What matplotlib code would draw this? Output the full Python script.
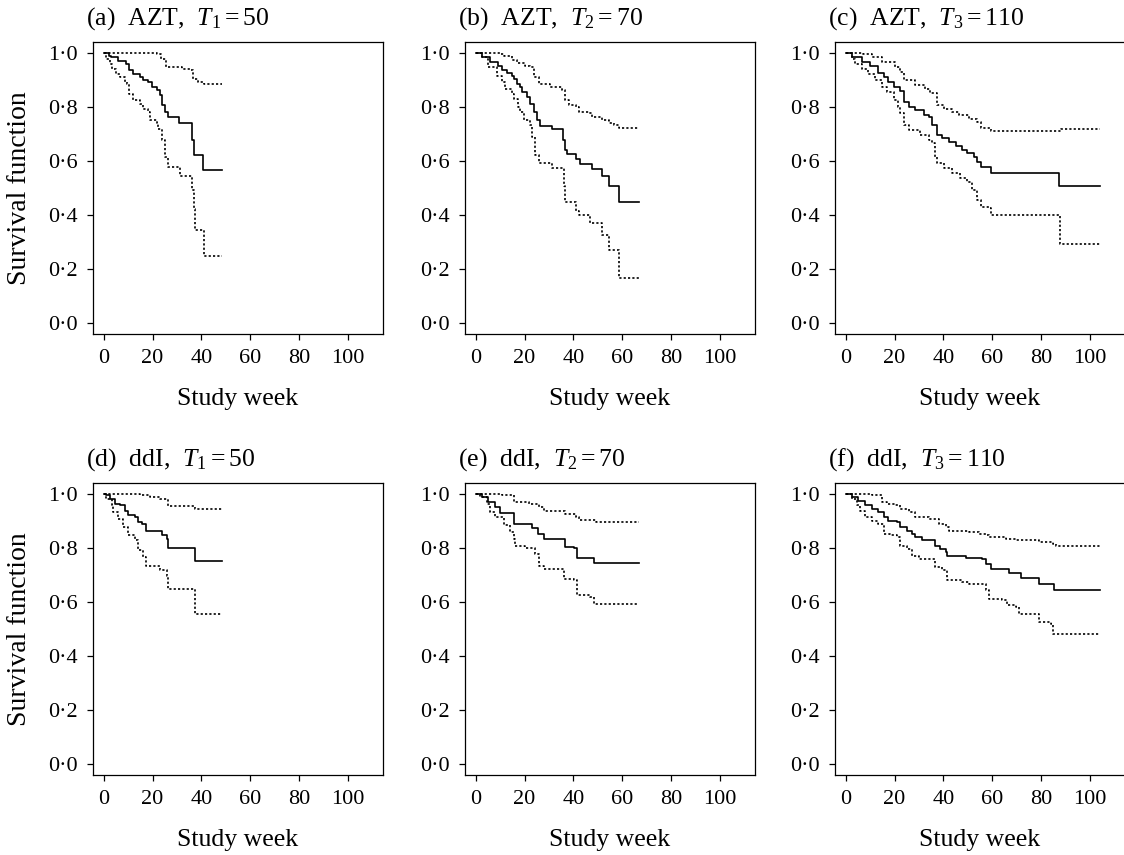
import matplotlib
matplotlib.use("Agg")
import matplotlib.pyplot as plt

plt.rcParams['font.family'] = ['Liberation Serif', 'DejaVu Serif']
plt.rcParams['mathtext.fontset'] = 'custom'
plt.rcParams['mathtext.rm'] = 'Liberation Serif'
plt.rcParams['mathtext.it'] = 'Liberation Serif:italic'

# Kaplan-Meier estimate (est) with lower/upper pointwise bands
# (a) AZT, T1 = 50
a_est_t = [0, 2, 3, 6, 9, 10.3, 12, 15, 16, 18, 19.6, 21.7, 23, 23.7, 25, 26.5, 31, 36, 37, 40.6]
a_est_s = [1.0, 0.989, 0.983, 0.968, 0.956, 0.934, 0.921, 0.91, 0.90, 0.89, 0.873, 0.86, 0.842, 0.805, 0.781, 0.76, 0.738, 0.676, 0.62, 0.566]
a_up_t = [0, 22, 23.5, 25.5, 32, 35.4, 36.7, 38.8, 40.9]
a_up_s = [1.0, 0.995, 0.977, 0.946, 0.94, 0.934, 0.903, 0.891, 0.882]
a_lo_t = [0, 1.1, 2.5, 3.2, 5.2, 6.6, 8.6, 9.7, 10.3, 12.1, 14.8, 16.2, 18.2, 18.9, 21.7, 22.3, 23.7, 25.1, 26.5, 31.3, 36.1, 36.8, 37.4, 40.9]
a_lo_s = [1.0, 0.977, 0.958, 0.94, 0.921, 0.909, 0.891, 0.885, 0.848, 0.824, 0.811, 0.793, 0.781, 0.75, 0.74, 0.719, 0.676, 0.615, 0.578, 0.542, 0.493, 0.42, 0.346, 0.248]
a_end = 48.5

# (b) AZT, T2 = 70
b_est_t = [0, 2.4, 5.9, 9.3, 10.7, 12.7, 14.8, 15.5, 16.8, 18.2, 18.9, 20.9, 22.3, 23.7, 25.1, 26.5, 31.3, 35.6, 36.5, 37.4, 40.9, 42.9, 47.7, 51.8, 54.6, 58.7]
b_est_s = [1.0, 0.983, 0.964, 0.949, 0.934, 0.925, 0.915, 0.903, 0.885, 0.873, 0.854, 0.836, 0.81, 0.781, 0.75, 0.73, 0.719, 0.676, 0.64, 0.625, 0.605, 0.588, 0.569, 0.542, 0.505, 0.446]
b_up_t = [0, 10, 11.4, 14.8, 17, 20.3, 22.3, 23.7, 25.8, 30.6, 35.4, 36.7, 38.1, 40.9, 42.2, 46.3, 47.7, 51.8, 54.6, 56.6, 58.7]
b_up_s = [1.0, 0.995, 0.989, 0.973, 0.96, 0.952, 0.946, 0.909, 0.885, 0.873, 0.863, 0.824, 0.805, 0.799, 0.781, 0.775, 0.762, 0.75, 0.738, 0.732, 0.723]
b_lo_t = [0, 2.4, 5.2, 8.6, 10.7, 12.1, 14.8, 15.5, 17.5, 18.2, 19.6, 22.3, 23, 24.4, 25.8, 31.3, 36, 36.7, 40.9, 42.2, 47, 51.8, 54.6, 58.7]
b_lo_s = [1.0, 0.983, 0.946, 0.915, 0.891, 0.866, 0.848, 0.83, 0.799, 0.781, 0.75, 0.732, 0.689, 0.621, 0.591, 0.572, 0.505, 0.446, 0.413, 0.40, 0.37, 0.327, 0.27, 0.166]
b_end = 67

# (c) AZT, T3 = 110
c_est_t = [0, 2.4, 6.5, 10, 13.4, 15.5, 17.5, 19.6, 22.3, 23.7, 25.8, 28.5, 31.9, 34, 35.4, 37.4, 39.5, 42.2, 45, 47.7, 49.8, 52.5, 53.9, 55.3, 59.4, 87.5]
c_est_s = [1.0, 0.983, 0.964, 0.949, 0.924, 0.909, 0.891, 0.873, 0.858, 0.817, 0.799, 0.789, 0.768, 0.76, 0.732, 0.695, 0.683, 0.67, 0.654, 0.64, 0.627, 0.613, 0.597, 0.576, 0.556, 0.507]
c_up_t = [0, 7.2, 10.7, 14.8, 20.3, 22.3, 23.7, 28.5, 32.6, 34.7, 37.4, 40.2, 43.6, 46.3, 50.5, 53.9, 55.3, 59.4, 88.2]
c_up_s = [1.0, 0.995, 0.983, 0.964, 0.946, 0.928, 0.897, 0.879, 0.866, 0.85, 0.805, 0.793, 0.781, 0.768, 0.756, 0.744, 0.723, 0.711, 0.716]
c_lo_t = [0, 2.4, 3.8, 6.5, 9.3, 12.1, 14.8, 16.8, 19.6, 21.6, 22.3, 23.7, 25.8, 30.6, 34, 35.4, 36.7, 37.4, 40.2, 43.6, 47, 49.8, 51.8, 53.9, 55.3, 58.7, 59.4, 87.8]
c_lo_s = [1.0, 0.977, 0.958, 0.94, 0.921, 0.897, 0.873, 0.854, 0.824, 0.799, 0.775, 0.732, 0.713, 0.695, 0.676, 0.664, 0.615, 0.591, 0.572, 0.554, 0.536, 0.523, 0.493, 0.456, 0.431, 0.425, 0.401, 0.294]
c_end = 104

# (d) ddI, T1 = 50
d_est_t = [0, 1.1, 2.5, 4.5, 6.6, 8.6, 10, 12.8, 14.1, 15.5, 17.5, 23.7, 25.8, 26.5, 37.2]
d_est_s = [1.0, 0.993, 0.98, 0.962, 0.956, 0.937, 0.919, 0.913, 0.894, 0.888, 0.86, 0.845, 0.833, 0.80, 0.75]
d_up_t = [0, 14.8, 18.9, 23, 26.5, 37.4]
d_up_s = [1.0, 0.993, 0.986, 0.98, 0.953, 0.943]
d_lo_t = [0, 1.1, 3.2, 3.9, 5.9, 7.9, 10, 12.8, 14.1, 16.2, 17.5, 23, 25.8, 26.5, 37.2]
d_lo_s = [1.0, 0.98, 0.956, 0.931, 0.907, 0.876, 0.845, 0.827, 0.79, 0.765, 0.734, 0.716, 0.697, 0.648, 0.556]
d_end = 48.5

# (e) ddI, T2 = 70
e_est_t = [0, 2.4, 5.2, 7.9, 10, 15.5, 23, 25.5, 27.8, 36.5, 40.2, 41.5, 48.4]
e_est_s = [1.0, 0.986, 0.968, 0.95, 0.928, 0.888, 0.872, 0.851, 0.833, 0.802, 0.799, 0.763, 0.743]
e_up_t = [0, 6.5, 10.7, 15.5, 22, 25.8, 27.8, 36.7, 40.9, 42.2, 49.1]
e_up_s = [1.0, 0.998, 0.993, 0.968, 0.96, 0.95, 0.937, 0.925, 0.913, 0.903, 0.894]
e_lo_t = [0, 1.8, 4.5, 5.9, 7.9, 11.4, 14.1, 15.5, 16.2, 20.3, 24.4, 25.8, 27.8, 36, 40.2, 41.5, 47, 48.4]
e_lo_s = [1.0, 0.986, 0.962, 0.931, 0.913, 0.882, 0.857, 0.833, 0.808, 0.80, 0.777, 0.734, 0.722, 0.685, 0.679, 0.624, 0.617, 0.59]
e_end = 67

# (f) ddI, T3 = 110
f_est_t = [0, 2.4, 5.2, 7.9, 10.7, 13.4, 15.5, 17.5, 20.9, 22.3, 25.1, 27.1, 28.5, 31.3, 36.7, 38.8, 40.9, 41.5, 49.1, 55.9, 57.3, 59.4, 66.9, 71.7, 79.3, 85.4]
f_est_s = [1.0, 0.989, 0.974, 0.956, 0.943, 0.931, 0.913, 0.90, 0.894, 0.876, 0.863, 0.851, 0.839, 0.83, 0.808, 0.796, 0.783, 0.768, 0.761, 0.759, 0.741, 0.722, 0.706, 0.689, 0.667, 0.642]
f_up_t = [0, 6.5, 10.7, 14.8, 16.8, 20.3, 22.3, 25.8, 28.5, 34, 38.1, 40.9, 42.2, 50.5, 54.6, 57.3, 58.7, 65.5, 69.7, 79.3, 84.7, 86.1]
f_up_s = [1.0, 0.998, 0.993, 0.968, 0.962, 0.956, 0.943, 0.931, 0.913, 0.905, 0.888, 0.876, 0.863, 0.857, 0.851, 0.845, 0.839, 0.833, 0.827, 0.82, 0.814, 0.808]
f_lo_t = [0, 2.4, 4.5, 5.9, 7.9, 10.7, 13.4, 15.5, 18.2, 20.9, 22.3, 25.1, 27.1, 29.9, 36.7, 39.5, 41.5, 47.7, 50.5, 57.3, 58.7, 64.2, 66.2, 69.7, 71, 79.3, 84, 85]
f_lo_s = [1.0, 0.98, 0.956, 0.937, 0.913, 0.90, 0.888, 0.851, 0.845, 0.839, 0.808, 0.796, 0.771, 0.759, 0.728, 0.716, 0.681, 0.673, 0.667, 0.642, 0.611, 0.605, 0.587, 0.58, 0.556, 0.525, 0.519, 0.48]
f_end = 104

titles = [r"(a)  AZT,  $T_1{=}50$", r"(b)  AZT,  $T_2{=}70$", r"(c)  AZT,  $T_3{=}110$",
          r"(d)  ddI,  $T_1{=}50$", r"(e)  ddI,  $T_2{=}70$", r"(f)  ddI,  $T_3{=}110$"]

panels = [
    (a_est_t, a_est_s, a_up_t, a_up_s, a_lo_t, a_lo_s, a_end),
    (b_est_t, b_est_s, b_up_t, b_up_s, b_lo_t, b_lo_s, b_end),
    (c_est_t, c_est_s, c_up_t, c_up_s, c_lo_t, c_lo_s, c_end),
    (d_est_t, d_est_s, d_up_t, d_up_s, d_lo_t, d_lo_s, d_end),
    (e_est_t, e_est_s, e_up_t, e_up_s, e_lo_t, e_lo_s, e_end),
    (f_est_t, f_est_s, f_up_t, f_up_s, f_lo_t, f_lo_s, f_end),
]

xticks = [0, 20, 40, 60, 80, 100]
yticks = [0.0, 0.2, 0.4, 0.6, 0.8, 1.0]
ytick_labels = [f"{v:.1f}".replace(".", "\u00b7") for v in yticks]

fig = plt.figure(figsize=(11.24, 8.55), dpi=100)

col_left = [0.0827, 0.4137, 0.7429]
row_bottom = [0.6094, 0.0936]
w, h = 0.258, 0.3418


def step_line(ax, t, s, end, **kw):
    ax.step(list(t) + [end], list(s) + [s[-1]], where='post', color='black', **kw)


for i, (title, p) in enumerate(zip(titles, panels)):
    r, c = divmod(i, 3)
    ax = fig.add_axes([col_left[c], row_bottom[r], w, h])
    est_t, est_s, up_t, up_s, lo_t, lo_s, end = p

    step_line(ax, est_t, est_s, end, lw=1.2)
    step_line(ax, up_t, up_s, end, lw=1.2, linestyle=(0, (1.3, 1.3)))
    step_line(ax, lo_t, lo_s, end, lw=1.2, linestyle=(0, (1.3, 1.3)))

    ax.set_xlim(-4.4, 114.4)
    ax.set_ylim(-0.04, 1.04)
    ax.set_xticks(xticks)
    ax.set_yticks(yticks)
    ax.set_yticklabels(ytick_labels)
    ax.tick_params(direction='out', length=4, width=0.9, labelsize=16, pad=7)
    for sp in ax.spines.values():
        sp.set_linewidth(0.9)

    ax.text(-0.025, 1.06, title, transform=ax.transAxes, ha='left', va='baseline', fontsize=18.5)
    ax.set_xlabel("Study week", fontsize=18.5)
    ax.xaxis.set_label_coords(0.5, -0.185)
    if c == 0:
        ax.set_ylabel("Survival function", fontsize=20)
        ax.yaxis.set_label_coords(-0.21, 0.5)

fig.savefig("out.png", dpi=100)
